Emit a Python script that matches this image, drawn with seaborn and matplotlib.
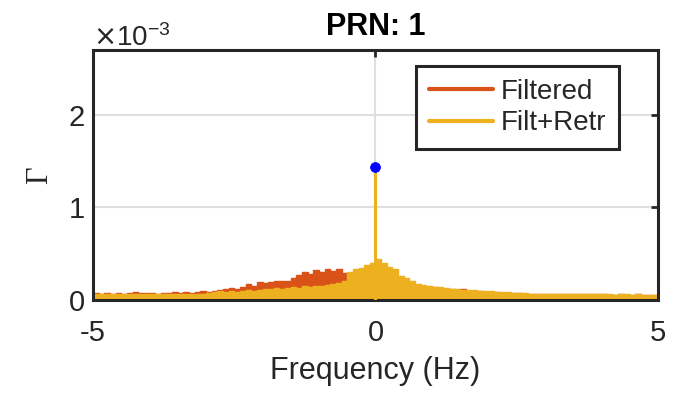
import numpy as np
import matplotlib
matplotlib.use("Agg")
import matplotlib.pyplot as plt
import seaborn as sns
from matplotlib.ticker import ScalarFormatter

# ---- data (units of 1e-3), 0.1 Hz bins from -5 to 5 ----
bin_edges = [round(-5.0 + 0.1 * i, 1) for i in range(101)]
bin_centers = [round(-4.95 + 0.1 * i, 2) for i in range(100)]

filtered = [
    0.08, 0.07, 0.08, 0.07, 0.08, 0.07, 0.08, 0.09, 0.08, 0.08,
    0.08, 0.07, 0.08, 0.08, 0.09, 0.08, 0.09, 0.08, 0.09, 0.10,
    0.09, 0.10, 0.11, 0.12, 0.13, 0.12, 0.14, 0.17, 0.15, 0.19,
    0.18, 0.19, 0.20, 0.21, 0.20, 0.24, 0.27, 0.30, 0.28, 0.32,
    0.30, 0.33, 0.31, 0.34, 0.29, 0.28, 0.26, 0.22, 0.18, 0.12,
    0.04, 0.03, 0.03, 0.05, 0.06, 0.08, 0.10, 0.12, 0.15, 0.14,
    0.14, 0.13, 0.12, 0.12, 0.11, 0.12, 0.10, 0.10, 0.10, 0.09,
    0.09, 0.09, 0.08, 0.08, 0.08, 0.08, 0.07, 0.07, 0.07, 0.07,
    0.06, 0.06, 0.06, 0.06, 0.06, 0.06, 0.06, 0.06, 0.06, 0.06,
    0.06, 0.05, 0.05, 0.06, 0.05, 0.05, 0.06, 0.05, 0.05, 0.05,
]
filt_retr = [
    0.07, 0.06, 0.07, 0.06, 0.06, 0.07, 0.06, 0.06, 0.07, 0.06,
    0.06, 0.07, 0.06, 0.06, 0.07, 0.06, 0.07, 0.07, 0.06, 0.07,
    0.08, 0.09, 0.10, 0.09, 0.10, 0.09, 0.10, 0.11, 0.10, 0.11,
    0.12, 0.12, 0.13, 0.12, 0.13, 0.14, 0.13, 0.15, 0.14, 0.15,
    0.15, 0.16, 0.17, 0.18, 0.20, 0.30, 0.33, 0.35, 0.38, 0.40,
    0.44, 0.40, 0.36, 0.34, 0.26, 0.24, 0.20, 0.17, 0.16, 0.15,
    0.14, 0.14, 0.13, 0.12, 0.12, 0.11, 0.11, 0.11, 0.10, 0.10,
    0.10, 0.09, 0.09, 0.09, 0.08, 0.08, 0.08, 0.07, 0.07, 0.07,
    0.07, 0.06, 0.06, 0.07, 0.06, 0.06, 0.06, 0.06, 0.07, 0.06,
    0.06, 0.06, 0.05, 0.06, 0.06, 0.05, 0.06, 0.05, 0.05, 0.05,
]
peak_freq = [0.0]
peak_val = [1.44]

series_names = ["Filtered", "Filt+Retr"]
x_ticks = [-5, 0, 5]
y_ticks = [0, 1e-3, 2e-3]

C_FILT = "#D95319"
C_RETR = "#EDB120"
AX_COL = "#262626"

sns.set_theme(style="white")
plt.rcParams["font.family"] = ["Liberation Sans", "DejaVu Sans"]

fig = plt.figure(figsize=(6.79, 4.0), dpi=100)
ax = fig.add_axes([0.137, 0.25, 0.832, 0.625])

scale = 1e-3
sns.histplot(x=bin_centers, weights=[v * scale for v in filtered], bins=bin_edges,
             element="step", fill=True, color=C_FILT, alpha=1.0, linewidth=1.0,
             edgecolor=C_FILT, ax=ax)
sns.histplot(x=bin_centers, weights=[v * scale for v in filt_retr], bins=bin_edges,
             element="step", fill=True, color=C_RETR, alpha=1.0, linewidth=1.0,
             edgecolor=C_RETR, ax=ax)
ax.vlines(peak_freq, 0, [v * scale for v in peak_val], color=C_RETR, linewidth=2.2, zorder=3)
sns.scatterplot(x=peak_freq, y=[v * scale for v in peak_val], color="#0000FF",
                s=50, edgecolor="#0000FF", zorder=4, ax=ax)

# legend proxies
ax.plot([], [], color=C_FILT, lw=3, label=series_names[0])
ax.plot([], [], color=C_RETR, lw=3, label=series_names[1])
leg = ax.legend(loc="upper right", bbox_to_anchor=(0.931, 0.935), fontsize=20,
                frameon=True, fancybox=False, handlelength=2.3, handletextpad=0.3,
                borderpad=0.45, labelspacing=0.2, borderaxespad=0.0)
leg.get_frame().set_edgecolor(AX_COL)
leg.get_frame().set_linewidth(2.2)
leg.get_frame().set_alpha(1.0)

ax.set_xlim(-5, 5)
ax.set_ylim(0, 2.7e-3)
ax.set_xticks(x_ticks)
ax.set_xticklabels(["-5", "0", "5"])
ax.set_yticks(y_ticks)
fmt = ScalarFormatter(useMathText=True)
fmt.set_powerlimits((-2, 2))
ax.yaxis.set_major_formatter(fmt)
ax.yaxis.get_offset_text().set_fontsize(20)
ax.yaxis.get_offset_text().set_color(AX_COL)

ax.grid(True, color="#DFDFDF", linewidth=1.5)
ax.set_axisbelow(True)
for sp in ax.spines.values():
    sp.set_visible(True)
    sp.set_color(AX_COL)
    sp.set_linewidth(2.2)
ax.tick_params(axis="both", direction="in", length=5, width=2.0, colors=AX_COL,
               labelsize=21, top=True, right=True)
ax.tick_params(axis="x", pad=14)
ax.tick_params(axis="y", pad=6)
for lab in ax.get_xticklabels() + ax.get_yticklabels():
    lab.set_color(AX_COL)

ax.set_xlabel("Frequency (Hz)", fontsize=22, color=AX_COL, labelpad=6)
ax.set_ylabel("Γ", fontsize=22, color=AX_COL, family=["Liberation Serif", "DejaVu Serif"],
              labelpad=10)
ax.set_title("PRN: 1", fontsize=22, fontweight="bold", color="black", pad=11)

fig.savefig("out.png", dpi=100)
